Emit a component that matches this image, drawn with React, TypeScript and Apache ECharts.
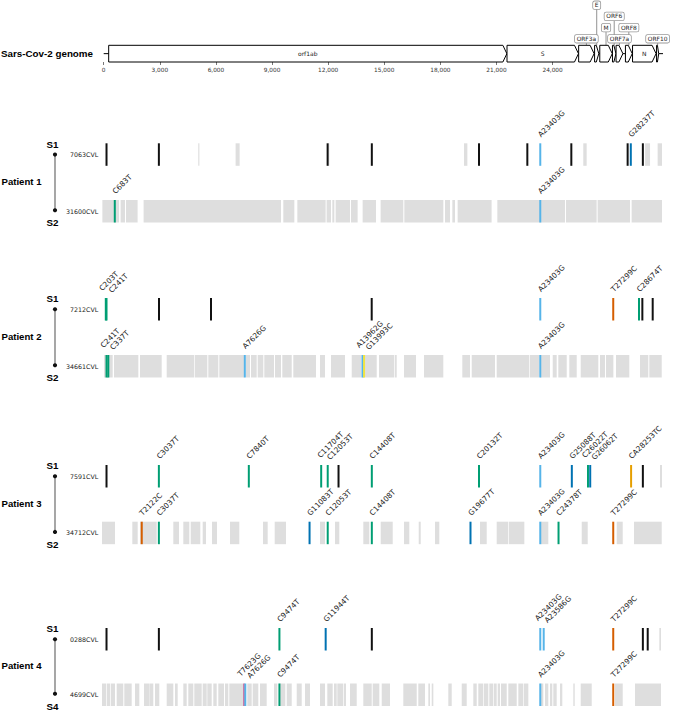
import React, { useEffect, useRef } from 'react';
import * as echarts from 'echarts';

// ---------------- data ----------------
const GENOME_LEN = 29903;
const GENOME_TICKS = [0, 3000, 6000, 9000, 12000, 15000, 18000, 21000, 24000, 27000];

const GENE_NAMES = ['orf1ab', 'S', 'ORF3a', 'E', 'M', 'ORF6', 'ORF7a', 'ORF8', 'N', 'ORF10'];
const GENE_STARTS = [266, 21563, 25393, 26245, 26523, 27202, 27394, 27894, 28274, 29558];
const GENE_ENDS = [21555, 25384, 26220, 26472, 27191, 27387, 27759, 28259, 29533, 29674];
const GENE_LABEL_LEVELS = [-1, -1, 0, 3, 1, 2, 0, 1, -1, 0];

const PATIENTS = ['Patient 1', 'Patient 2', 'Patient 3', 'Patient 4'];
const SAMPLE_IDS = ['7063CVL', '31600CVL', '7212CVL', '34661CVL', '7591CVL', '34712CVL', '0288CVL', '4699CVL'];
const SAMPLE_TAGS = ['S1', 'S2', 'S1', 'S2', 'S1', 'S2', 'S1', 'S4'];

// low-coverage (grey) intervals [start, end]
const LOWCOV_P1_S1 = [[5140, 5200], [7135, 7350], [12085, 12140], [19330, 19510], [25700, 25880], [29000, 29265], [29670, 29903]];
const LOWCOV_P1_S2 = [[20, 910], [994, 1229], [1282, 1902], [2222, 9559], [9682, 10270], [10430, 11941], [11994, 12229], [12299, 12406], [12475, 13244], [13297, 13650], [13917, 14632], [14878, 16090], [16144, 18226], [18317, 18584], [18707, 18851], [18990, 20805], [21110, 24725], [24778, 26412], [26466, 28196], [28281, 29903]];
const LOWCOV_P2_S1: number[][] = [];
const LOWCOV_P2_S2 = [[107, 571], [641, 1940], [2029, 3188], [3455, 4929], [4966, 5623], [5676, 6210], [6264, 7599], [7690, 7903], [7957, 8261], [8314, 8613], [8667, 9185], [9238, 9559], [9628, 10130], [10216, 11428], [11641, 11908], [12229, 12976], [13334, 13830], [13868, 14669], [14792, 15609], [15646, 15737], [16127, 16768], [17195, 18225], [19240, 19651], [19742, 20986], [21076, 22818], [22855, 23336], [23389, 23923], [24067, 24280], [24366, 24815], [24954, 25349], [25563, 26502], [26593, 26860], [26914, 27306], [27448, 28158], [28729, 29172], [29225, 29888]];
const LOWCOV_P3_S1 = [[29797, 29903]];
const LOWCOV_P3_S2 = [[0, 694], [1618, 1906], [2029, 2921], [3807, 4112], [4341, 4662], [4737, 5249], [5377, 5554], [5874, 6141], [6835, 7332], [8597, 8848], [9222, 9826], [11641, 11908], [12442, 12672], [13953, 14274], [14883, 15524], [16127, 16410], [16912, 17019], [17782, 18012], [20185, 20543], [21076, 21696], [21734, 22552], [23426, 23832], [25616, 25937], [27485, 27805], [28409, 29888]];
const LOWCOV_P4_S1 = [[29760, 29850]];
const LOWCOV_P4_S2 = [[0, 214], [251, 427], [465, 694], [785, 1137], [1191, 1586], [1762, 1992], [2243, 2510], [2526, 2739], [2830, 3060], [3455, 3807], [3898, 4042], [4341, 4523], [4608, 4875], [4929, 5324], [5377, 5591], [5623, 5858], [5944, 6125], [6211, 6515], [6568, 6745], [6798, 7545], [7759, 7994], [8047, 8347], [8437, 8795], [9185, 9361], [9468, 9788], [9863, 10130], [10397, 10664], [10840, 11107], [11641, 11908], [12031, 12319], [12389, 12533], [12565, 12886], [12923, 13030], [13243, 13601], [13953, 14402], [14455, 14808], [14936, 15379], [16090, 16806], [16891, 17248], [17425, 17515], [17606, 17692], [18492, 18674], [19208, 19475], [19827, 20009], [20094, 20361], [20399, 20628], [20682, 20895], [20933, 21076], [21130, 21253], [21307, 21611], [21696, 22145], [22231, 22498], [22535, 22765], [23426, 23565], [23656, 23832], [23923, 24046], [24099, 24280], [24457, 24580], [25167, 25242], [25563, 26150], [27394, 27805], [28462, 29851]];

// mutations [position, label] ('' = unlabeled, drawn black)
const MUT_P1_S1: [number, string][] = [[241, ''], [3037, ''], [12048, ''], [14408, ''], [20132, ''], [22712, ''], [23403, 'A23403G'], [25061, ''], [28068, ''], [28237, 'G28237T'], [28881, '']];
const MUT_P1_S2: [number, string][] = [[683, 'C683T'], [23403, 'A23403G']];
const MUT_P2_S1: [number, string][] = [[203, 'C203T'], [241, 'C241T'], [3044, ''], [5821, ''], [14402, ''], [23403, 'A23403G'], [27299, 'T27299C'], [28674, 'C28674T'], [28854, ''], [29406, '']];
const MUT_P2_S2: [number, string][] = [[241, 'C241T'], [337, 'C337T'], [7626, 'A7626G'], [13910, 'A13962G'], [13993, 'G13993C'], [23403, 'A23403G']];
const MUT_P3_S1: [number, string][] = [[241, ''], [3037, 'C3037T'], [7840, 'C7840T'], [11704, 'C11704T'], [12053, 'C12053T'], [12630, ''], [14408, 'C14408T'], [20132, 'C20132T'], [23403, 'A23403G'], [25088, 'G25088T'], [25950, 'C26022T'], [26070, 'G26062T'], [28253, 'CA28253TC'], [28881, '']];
const MUT_P3_S2: [number, string][] = [[2122, 'T2122C'], [3037, 'C3037T'], [11083, 'G11083T'], [12053, 'C12053T'], [14408, 'C14408T'], [19677, 'G19677T'], [23403, 'A23403G'], [24378, 'C24378T'], [27299, 'T27299C']];
const MUT_P4_S1: [number, string][] = [[241, ''], [3037, ''], [9474, 'C9474T'], [11944, 'G11944T'], [14408, ''], [23403, 'A23403G'], [23586, 'A23586G'], [27299, 'T27299C'], [28881, ''], [29140, '']];
const MUT_P4_S2: [number, string][] = [[7583, 'T7623G'], [7652, 'A7626G'], [9474, 'C9474T'], [23403, 'A23403G'], [27299, 'T27299C']];

const TRACK_LOWCOV = [LOWCOV_P1_S1, LOWCOV_P1_S2, LOWCOV_P2_S1, LOWCOV_P2_S2, LOWCOV_P3_S1, LOWCOV_P3_S2, LOWCOV_P4_S1, LOWCOV_P4_S2];
const TRACK_MUTS = [MUT_P1_S1, MUT_P1_S2, MUT_P2_S1, MUT_P2_S2, MUT_P3_S1, MUT_P3_S2, MUT_P4_S1, MUT_P4_S2];

// ---------------- layout ----------------
const W = 677;
const H = 712;
const GEN_LEFT = 103.7;
const GEN_WIDTH = 559.3;
const GEN_TOP = 45.3;
const GEN_H = 16.7;
const TRACK_LEFT = 102;
const TRACK_WIDTH = 560;
const TRACK_H = 22.5;
const TRACK_TOPS = [143.3, 200, 298, 355, 465, 521.7, 628, 683.5];
const SMALL_FONT = '"DejaVu Sans", Verdana, sans-serif';
const BOLD_FONT = '"Liberation Sans", Arial, sans-serif';
const LOWCOV_COLOR = '#dedede';
const LABEL_GAP = 9.5;
const LABEL_DY = 2;

const MUT_COLORS: Record<string, string> = {
  CT: '#009E73',
  AG: '#56B4E9',
  GT: '#0072B2',
  TC: '#D55E00',
  GC: '#F0E442',
  TG: '#CC79A7',
};

function mutColor(label: string): string {
  if (!label) return '#111111';
  const m = label.match(/^([ACGT]+)\d+([ACGT]+)$/);
  if (!m) return '#111111';
  if (m[1].length > 1) return '#E69F00';
  return MUT_COLORS[m[1] + m[2]] || '#111111';
}

// spread labels that would collide
function labelOffsets(muts: [number, string][]): number[][] {
  const scale = TRACK_WIDTH / GENOME_LEN;
  const out = muts.map(() => [0, 0]);
  const labeled = muts
    .map((m, i) => ({ i, px: m[0] * scale, label: m[1] }))
    .filter((l) => l.label);
  const clusters: { i: number; px: number }[][] = [];
  let cur: { i: number; px: number }[] = [];
  for (const l of labeled) {
    if (cur.length && l.px - cur[cur.length - 1].px < LABEL_GAP) cur.push(l);
    else {
      if (cur.length) clusters.push(cur);
      cur = [l];
    }
  }
  if (cur.length) clusters.push(cur);
  for (const c of clusters) {
    const mean = c.reduce((s, l) => s + l.px, 0) / c.length;
    c.forEach((l, k) => {
      const rel = k - (c.length - 1) / 2;
      out[l.i] = [mean + rel * LABEL_GAP - l.px, c.length > 1 ? rel * LABEL_DY : 0];
    });
  }
  return out;
}

function buildOption() {
  const grids: any[] = [];
  const xAxes: any[] = [];
  const yAxes: any[] = [];
  const series: any[] = [];

  // genome grid
  grids.push({ left: GEN_LEFT, top: GEN_TOP, width: GEN_WIDTH, height: GEN_H, outerBoundsMode: 'none' });
  xAxes.push({
    gridIndex: 0,
    type: 'value',
    min: 0,
    max: GENOME_LEN,
    interval: 3000,
    axisLine: { show: false },
    splitLine: { show: false },
    axisTick: { show: true, length: 3, lineStyle: { color: '#555', width: 0.8 }, customValues: GENOME_TICKS },
    axisLabel: {
      customValues: GENOME_TICKS,
      showMaxLabel: false,
      fontSize: 5.8,
      fontFamily: SMALL_FONT,
      color: '#333',
      margin: 5,
      formatter: (v: number) => v.toLocaleString('en-US'),
    },
  });
  yAxes.push({ gridIndex: 0, type: 'value', min: 0, max: 1, show: false });

  series.push({
    type: 'line',
    xAxisIndex: 0,
    yAxisIndex: 0,
    data: [[0, 0.5], [GENOME_LEN, 0.5]],
    symbol: 'none',
    lineStyle: { color: '#000', width: 1 },
    z: 1,
  });

  series.push({
    type: 'custom',
    xAxisIndex: 0,
    yAxisIndex: 0,
    z: 2,
    data: GENE_NAMES.map((_, i) => [GENE_STARTS[i], GENE_ENDS[i], 0]),
    encode: { x: [0, 1], y: 2 },
    renderItem: (params: any, api: any) => {
      const i = params.dataIndex;
      const s = api.coord([GENE_STARTS[i], 0]);
      const e = api.coord([GENE_ENDS[i], 1]);
      const x0 = s[0];
      const x1 = e[0];
      const yb = s[1];
      const yt = e[1];
      const ym = (yb + yt) / 2;
      const tip = Math.min(4, (x1 - x0) * 0.6);
      const children: any[] = [
        {
          type: 'polygon',
          shape: { points: [[x0, yt], [x1 - tip, yt], [x1, ym], [x1 - tip, yb], [x0, yb]] },
          style: { fill: '#fff', stroke: '#000', lineWidth: 1 },
          z2: 5,
        },
      ];
      const lvl = GENE_LABEL_LEVELS[i];
      const cx = (x0 + x1) / 2;
      if (lvl < 0) {
        children.push({
          type: 'text',
          x: cx,
          y: ym,
          z2: 6,
          style: { text: GENE_NAMES[i], fontSize: 6, fontFamily: SMALL_FONT, fill: '#222', align: 'center', verticalAlign: 'middle' },
        });
      } else {
        const cy = yt - 6.5 - lvl * 11.2;
        children.push({
          type: 'line',
          shape: { x1: cx, y1: cy + 3.8, x2: cx, y2: yt },
          style: { stroke: '#777', lineWidth: 0.8 },
          z2: 1,
        });
        children.push({
          type: 'text',
          x: cx,
          y: cy,
          z2: 10,
          style: {
            text: GENE_NAMES[i],
            fontSize: 5.9,
            fontFamily: SMALL_FONT,
            fill: '#222',
            align: 'center',
            verticalAlign: 'middle',
            backgroundColor: '#fff',
            borderColor: '#999',
            borderWidth: 0.8,
            borderRadius: 1.5,
            padding: [1, 1.7, 0.6, 1.7],
          },
        });
      }
      return { type: 'group', children };
    },
  });

  // sample tracks
  TRACK_TOPS.forEach((top, t) => {
    const gi = t + 1;
    grids.push({ left: TRACK_LEFT, top, width: TRACK_WIDTH, height: TRACK_H, outerBoundsMode: 'none' });
    xAxes.push({ gridIndex: gi, type: 'value', min: 0, max: GENOME_LEN, show: false });
    yAxes.push({
      gridIndex: gi,
      type: 'category',
      data: [SAMPLE_IDS[t]],
      axisLine: { show: false },
      axisTick: { show: false },
      splitLine: { show: false },
      axisLabel: { fontSize: 6.3, fontFamily: SMALL_FONT, color: '#222', margin: 3.7 },
    });
    const low = TRACK_LOWCOV[t];
    series.push({
      type: 'custom',
      xAxisIndex: gi,
      yAxisIndex: gi,
      z: 2,
      data: low.map((r) => [r[0], r[1], 0]),
      encode: { x: [0, 1], y: 2 },
      renderItem: (params: any, api: any) => {
        const r = low[params.dataIndex];
        const s = api.coord([r[0], 0]);
        const e = api.coord([r[1], 0]);
        const h = api.size([0, 1])[1];
        return {
          type: 'rect',
          shape: { x: s[0], y: s[1] - h / 2, width: Math.max(0.8, e[0] - s[0]), height: h },
          style: { fill: LOWCOV_COLOR },
        };
      },
    });
    const muts = TRACK_MUTS[t];
    const offs = labelOffsets(muts);
    series.push({
      type: 'custom',
      xAxisIndex: gi,
      yAxisIndex: gi,
      z: 3,
      data: muts.map((m) => [m[0], 0]),
      encode: { x: 0, y: 1 },
      renderItem: (params: any, api: any) => {
        const i = params.dataIndex;
        const m = muts[i];
        const c = api.coord([m[0], 0]);
        const h = api.size([0, 1])[1];
        const y0 = c[1] - h / 2;
        const children: any[] = [
          { type: 'rect', shape: { x: c[0] - 1, y: y0, width: 2, height: h }, style: { fill: mutColor(m[1]) } },
        ];
        if (m[1]) {
          children.push({
            type: 'text',
            x: c[0] - 1 + offs[i][0],
            y: y0 - 7.5 + offs[i][1],
            rotation: Math.PI / 4,
            style: {
              text: m[1],
              fontSize: 7.4,
              fontFamily: SMALL_FONT,
              fill: '#1a1a1a',
              align: 'left',
              verticalAlign: 'middle',
            },
          });
        }
        return { type: 'group', children };
      },
    });
  });

  // left-hand annotations
  const graphic: any[] = [
    {
      type: 'text',
      x: 1,
      y: GEN_TOP + GEN_H / 2,
      style: { text: 'Sars-Cov-2 genome', fontSize: 9.8, fontWeight: 'bold', fontFamily: BOLD_FONT, fill: '#000', verticalAlign: 'middle' },
    },
  ];
  PATIENTS.forEach((p, k) => {
    const ya = TRACK_TOPS[2 * k] + TRACK_H / 2;
    const yb = TRACK_TOPS[2 * k + 1] + TRACK_H / 2 - 1;
    graphic.push({
      type: 'line',
      shape: { x1: 55, y1: ya, x2: 55, y2: yb },
      style: { stroke: '#777', lineWidth: 1.3 },
    });
    graphic.push({ type: 'circle', shape: { cx: 55, cy: ya, r: 2.1 }, style: { fill: '#111' } });
    graphic.push({ type: 'circle', shape: { cx: 55, cy: yb, r: 2.1 }, style: { fill: '#111' } });
    graphic.push({
      type: 'text',
      x: 1.5,
      y: (ya + yb) / 2 - 1,
      style: { text: p, fontSize: 9.6, fontWeight: 'bold', fontFamily: BOLD_FONT, fill: '#000', verticalAlign: 'middle' },
    });
    graphic.push({
      type: 'text',
      x: 52.5,
      y: ya - 10.5,
      style: { text: SAMPLE_TAGS[2 * k], fontSize: 9.8, fontWeight: 'bold', fontFamily: BOLD_FONT, fill: '#000', align: 'center', verticalAlign: 'middle' },
    });
    graphic.push({
      type: 'text',
      x: 52.5,
      y: yb + 12.5,
      style: { text: SAMPLE_TAGS[2 * k + 1], fontSize: 9.8, fontWeight: 'bold', fontFamily: BOLD_FONT, fill: '#000', align: 'center', verticalAlign: 'middle' },
    });
  });

  return {
    animation: false,
    backgroundColor: '#ffffff',
    grid: grids,
    xAxis: xAxes,
    yAxis: yAxes,
    series,
    graphic,
  };
}

export default function App() {
  const ref = useRef<HTMLDivElement>(null);
  useEffect(() => {
    document.body.style.margin = '0';
    if (!ref.current) return;
    const chart = echarts.init(ref.current, undefined, { renderer: 'svg' });
    chart.setOption(buildOption());
    return () => chart.dispose();
  }, []);
  return <div ref={ref} style={{ width: W, height: H }} />;
}
